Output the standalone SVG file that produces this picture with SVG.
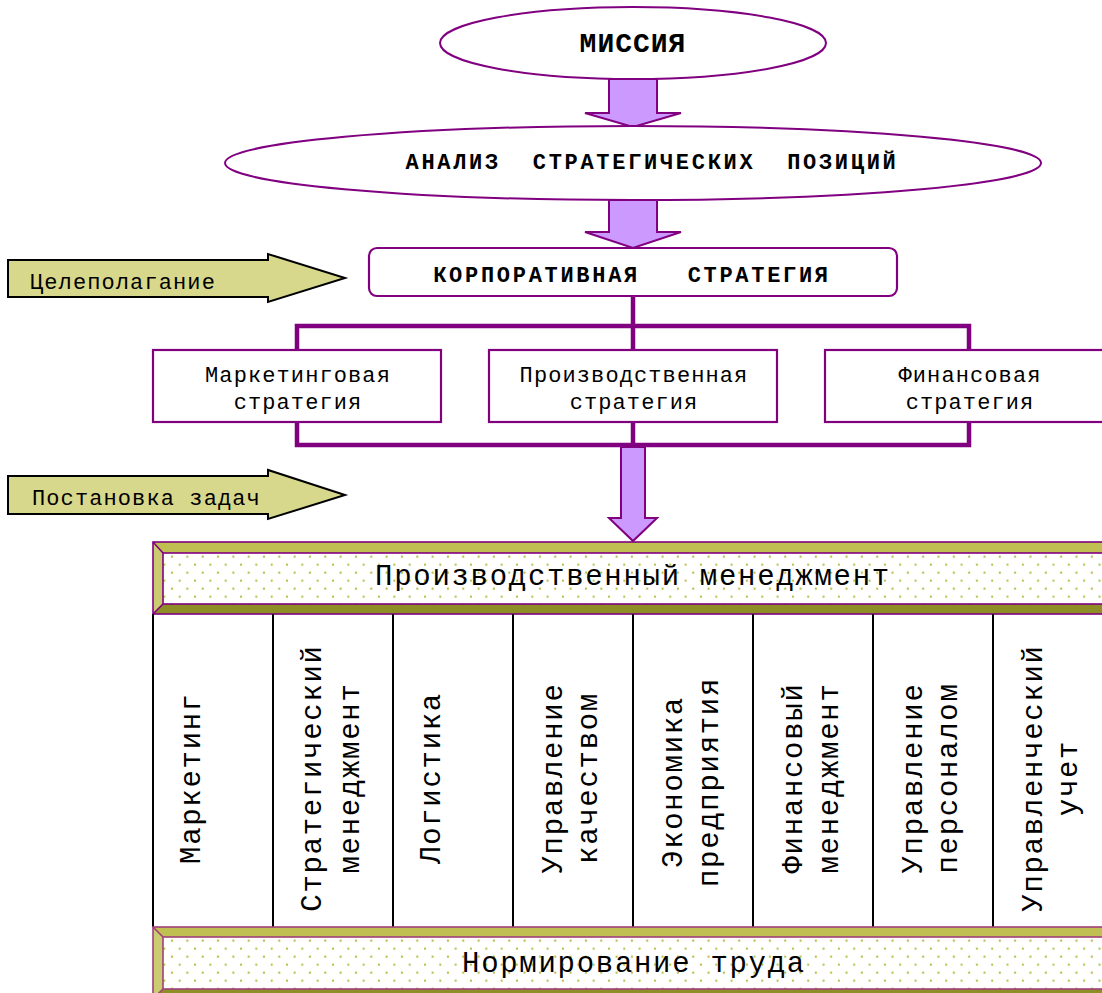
<svg xmlns="http://www.w3.org/2000/svg" width="1102" height="993" viewBox="0 0 1102 993">
  <style>
    text { font-family: "Liberation Mono", "Courier New", monospace; fill: #000; }
    .big-bold { font-weight: bold; font-size: 28px; letter-spacing: 1px; }
    .bold { font-weight: bold; font-size: 22px; letter-spacing: 2.7px; }
    .reg { font-size: 22px; letter-spacing: 1.1px; }
    .lg { font-size: 29px; letter-spacing: 1.7px; }
    .mid { text-anchor: middle; }
    .oval { fill: #fff; stroke: #800080; stroke-width: 2; }
    .box { fill: #fff; stroke: #800080; stroke-width: 2.2; }
    .block-arrow { fill: #cc99ff; stroke: #800080; stroke-width: 2; stroke-linejoin: miter; }
    .side-arrow { fill: #d8d88c; stroke: #000; stroke-width: 2; stroke-linejoin: miter; }
    .bus { fill: none; stroke: #800080; stroke-width: 4.5; stroke-linecap: square; }
    .col-line { stroke: #000; stroke-width: 2; }
    .bev-top { fill: #bfbf52; }
    .bev-left { fill: #cbcb72; }
    .bev-bottom { fill: #8e8e26; }
    .bev-right { fill: #a5a534; }
    .bev-edge { fill: none; stroke: #800080; stroke-width: 1.6; }
    .bev-edge2 { fill: none; stroke: #a0407c; stroke-width: 1.6; }
  </style>
  <defs>
    <pattern id="dots" patternUnits="userSpaceOnUse" x="168.2" y="552.7" width="15.33" height="16">
      <rect width="15.33" height="16" fill="#fff"/>
      <circle cx="3.8" cy="4" r="1.15" fill="#b9bd45"/>
      <circle cx="11.5" cy="12" r="1.15" fill="#b9bd45"/>
    </pattern>
  </defs>

  <rect width="1102" height="993" fill="#fff"/>

  <!-- connectors: block arrows and the strategy bus -->
  <g id="connectors">
    <path class="block-arrow" d="M609,79 L657,79 L657,113 L681,113 L633,127 L585,113 L609,113 Z"/>
    <path class="block-arrow" d="M609,200 L657,200 L657,232 L681,232 L633,248 L585,232 L609,232 Z"/>
    <path class="bus" d="M297,349 L297,326 L969,326 L969,349"/>
    <path class="bus" d="M633,297 L633,349"/>
    <path class="bus" d="M297,422 L297,445 L969,445 L969,422"/>
    <path class="bus" d="M633,422 L633,445"/>
    <path class="block-arrow" d="M621,447 L645,447 L645,518 L657,518 L633,541 L609,518 L621,518 Z"/>
  </g>

  <g id="mission">
    <ellipse class="oval" cx="633" cy="43" rx="193" ry="36"/>
    <text class="big-bold mid" x="633" y="52">МИССИЯ</text>
  </g>

  <g id="analysis">
    <ellipse class="oval" cx="633" cy="163" rx="408" ry="37"/>
    <text class="bold mid" x="652" y="169" xml:space="preserve">АНАЛИЗ  СТРАТЕГИЧЕСКИХ  ПОЗИЦИЙ</text>
  </g>

  <g id="corporate">
    <rect class="box" x="369" y="248" width="528" height="48" rx="8"/>
    <text class="bold mid" x="632" y="282" xml:space="preserve">КОРПОРАТИВНАЯ   СТРАТЕГИЯ</text>
  </g>

  <g id="goal-setting">
    <path class="side-arrow" d="M8,260 L268,260 L268,254 L345,278 L268,302 L268,297 L8,297 Z"/>
    <text class="reg" x="30" y="289">Целеполагание</text>
  </g>

  <g id="task-setting">
    <path class="side-arrow" d="M8,476 L268,476 L268,470 L345,495 L268,519 L268,514 L8,514 Z"/>
    <text class="reg" x="32" y="505">Постановка задач</text>
  </g>

  <g id="marketing-strategy">
    <rect class="box" x="153" y="350" width="288" height="72"/>
    <text class="reg mid" x="298" y="382">Маркетинговая</text>
    <text class="reg mid" x="298" y="409">стратегия</text>
  </g>

  <g id="production-strategy">
    <rect class="box" x="489" y="350" width="288" height="72"/>
    <text class="reg mid" x="634" y="382">Производственная</text>
    <text class="reg mid" x="634" y="409">стратегия</text>
  </g>

  <g id="finance-strategy">
    <rect class="box" x="825" y="350" width="288" height="72"/>
    <text class="reg mid" x="970" y="382">Финансовая</text>
    <text class="reg mid" x="970" y="409">стратегия</text>
  </g>

  <!-- bevelled header bar -->
  <g id="production-management">
    <polygon class="bev-top" points="153,542 1113,542 1103,553 163,553"/>
    <polygon class="bev-left" points="153,542 163,553 163,604 153,614"/>
    <polygon class="bev-bottom" points="153,614 163,604 1103,604 1113,614"/>
    <polygon class="bev-right" points="1113,542 1103,553 1103,604 1113,614"/>
    <rect x="163" y="553" width="940" height="51" fill="url(#dots)"/>
    <rect class="bev-edge" x="153" y="542" width="960" height="72"/>
    <rect class="bev-edge" x="163" y="553" width="940" height="51"/>
    <path class="bev-edge" d="M153,542 L163,553 M153,614 L163,604"/>
    <text class="lg mid" x="633" y="585">Производственный менеджмент</text>
  </g>

  <!-- discipline columns -->
  <g id="disciplines">
    <line class="col-line" x1="153" y1="614" x2="153" y2="927"/>
    <line class="col-line" x1="273" y1="614" x2="273" y2="927"/>
    <line class="col-line" x1="393" y1="614" x2="393" y2="927"/>
    <line class="col-line" x1="513" y1="614" x2="513" y2="927"/>
    <line class="col-line" x1="633" y1="614" x2="633" y2="927"/>
    <line class="col-line" x1="753" y1="614" x2="753" y2="927"/>
    <line class="col-line" x1="873" y1="614" x2="873" y2="927"/>
    <line class="col-line" x1="993" y1="614" x2="993" y2="927"/>
  </g>

  <g id="col-marketing">
    <text class="lg mid" transform="translate(200,778) rotate(-90)">Маркетинг</text>
  </g>
  <g id="col-strategic">
    <text class="lg mid" transform="translate(321,778) rotate(-90)">Стратегический</text>
    <text class="lg mid" transform="translate(359,778) rotate(-90)">менеджмент</text>
  </g>
  <g id="col-logistics">
    <text class="lg mid" transform="translate(440,778) rotate(-90)">Логистика</text>
  </g>
  <g id="col-quality">
    <text class="lg mid" transform="translate(562,778) rotate(-90)">Управление</text>
    <text class="lg mid" transform="translate(597,778) rotate(-90)">качеством</text>
  </g>
  <g id="col-economics">
    <text class="lg mid" transform="translate(682,782) rotate(-90)">Экономика</text>
    <text class="lg mid" transform="translate(718,782) rotate(-90)">предприятия</text>
  </g>
  <g id="col-finance">
    <text class="lg mid" transform="translate(802,778) rotate(-90)">Финансовый</text>
    <text class="lg mid" transform="translate(838,778) rotate(-90)">менеджмент</text>
  </g>
  <g id="col-personnel">
    <text class="lg mid" transform="translate(922,778) rotate(-90)">Управление</text>
    <text class="lg mid" transform="translate(957,778) rotate(-90)">персоналом</text>
  </g>
  <g id="col-accounting">
    <text class="lg mid" transform="translate(1042,778) rotate(-90)">Управленческий</text>
    <text class="lg mid" transform="translate(1077,778) rotate(-90)">учет</text>
  </g>

  <!-- bevelled footer bar -->
  <g id="labour-rating">
    <polygon class="bev-top" points="153,927 1113,927 1103,937 163,937"/>
    <polygon class="bev-left" points="153,927 163,937 163,989 153,999"/>
    <polygon class="bev-bottom" points="153,999 163,989 1103,989 1113,999"/>
    <rect x="163" y="937" width="940" height="52" fill="url(#dots)"/>
    <rect class="bev-edge2" x="153" y="927" width="960" height="72"/>
    <rect class="bev-edge2" x="163" y="937" width="940" height="52"/>
    <path class="bev-edge2" d="M153,927 L163,937 M153,999 L163,989"/>
    <text class="lg mid" x="634" y="972">Нормирование труда</text>
  </g>
</svg>
